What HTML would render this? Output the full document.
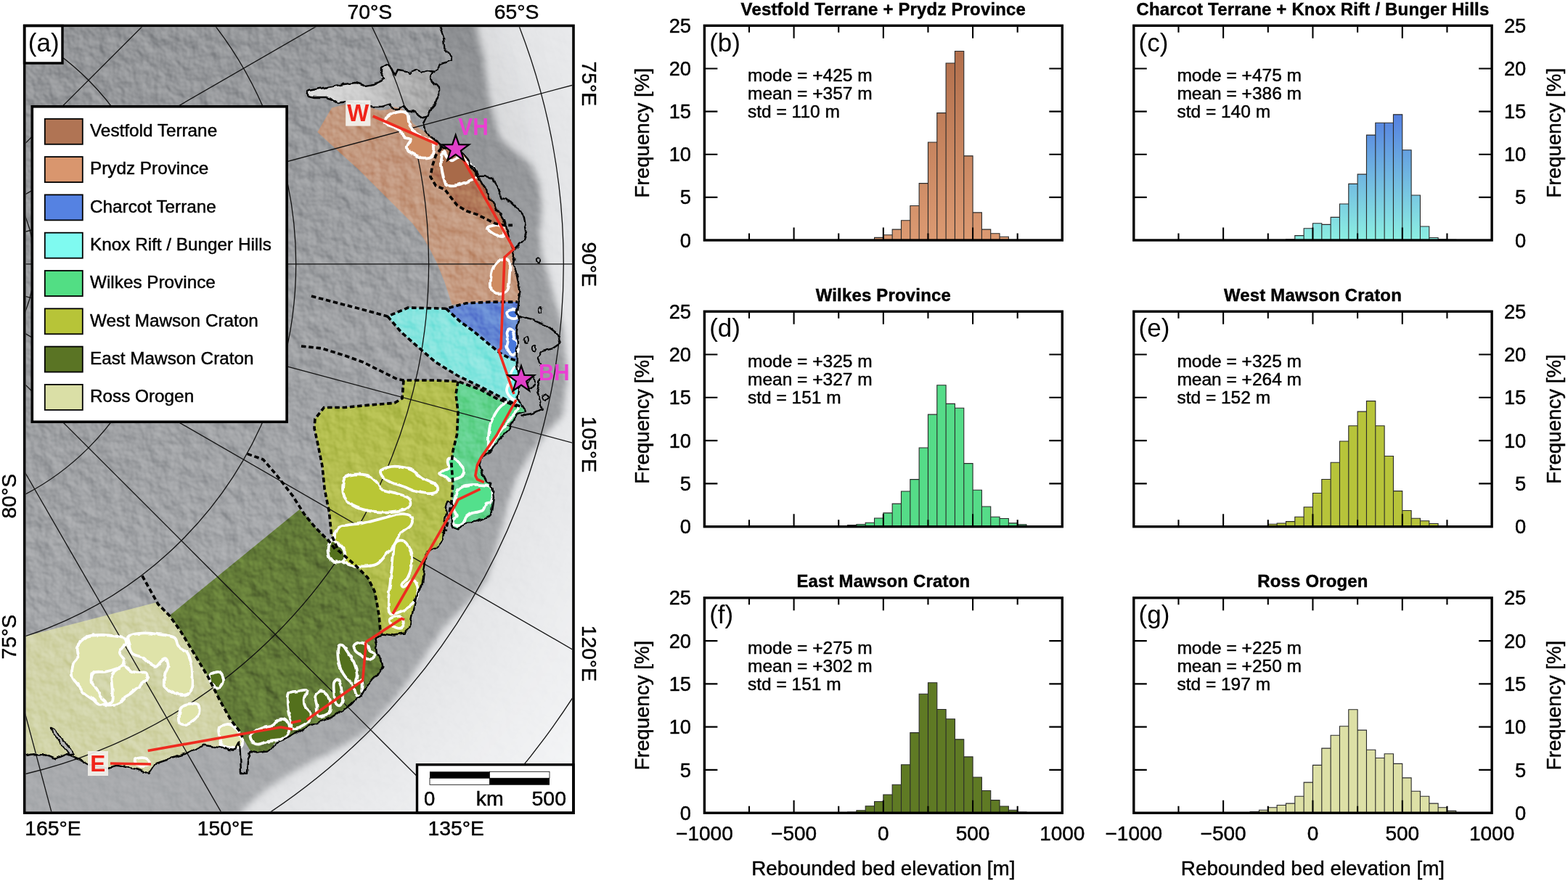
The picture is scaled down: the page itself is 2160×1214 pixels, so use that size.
<!DOCTYPE html>
<html><head><meta charset="utf-8"><title>Figure</title>
<style>html,body{margin:0;padding:0;background:#fff;}svg{display:block;}text{stroke:#000;stroke-width:0.45px;}text.c,text.n{stroke:none;}</style></head>
<body><svg width="2160" height="1214" viewBox="0 0 2160 1214" font-family="'Liberation Sans', Arial, Helvetica, sans-serif">
<defs>
<clipPath id="mc"><rect x="35.5" y="37.2" width="752.6" height="1081.2"/></clipPath>
<linearGradient id="land" x1="0" y1="0" x2="0.35" y2="1"><stop offset="0" stop-color="#929497"/><stop offset="0.45" stop-color="#9d9fa2"/><stop offset="1" stop-color="#acaeb1"/></linearGradient>
<linearGradient id="shelf" x1="0" y1="0" x2="0" y2="1"><stop offset="0" stop-color="#8d8f92"/><stop offset="0.3" stop-color="#999b9e"/><stop offset="0.6" stop-color="#a1a3a6"/><stop offset="1" stop-color="#a9abae"/></linearGradient><radialGradient id="deep" gradientUnits="userSpaceOnUse" cx="-131.4" cy="363.8" r="1150"><stop offset="0.7" stop-color="#cfd0d2"/><stop offset="0.78" stop-color="#e3e4e6"/><stop offset="0.9" stop-color="#edeef0"/><stop offset="1" stop-color="#f4f5f6"/></radialGradient>
<linearGradient id="amery" x1="0" y1="0" x2="1" y2="0"><stop offset="0" stop-color="#e2e2e2"/><stop offset="0.4" stop-color="#cdcdcd"/><stop offset="0.7" stop-color="#b4b4b4"/><stop offset="1" stop-color="#a4a4a4"/></linearGradient>
<filter id="jag" filterUnits="userSpaceOnUse" x="30" y="30" width="770" height="1100"><feTurbulence type="fractalNoise" baseFrequency="0.09" numOctaves="2" seed="3" result="t"/><feDisplacementMap in="SourceGraphic" in2="t" scale="6" xChannelSelector="R" yChannelSelector="G"/></filter>
<filter id="jag2" filterUnits="userSpaceOnUse" x="30" y="30" width="770" height="1100"><feTurbulence type="fractalNoise" baseFrequency="0.08" numOctaves="2" seed="5" result="t"/><feDisplacementMap in="SourceGraphic" in2="t" scale="4" xChannelSelector="R" yChannelSelector="G"/></filter>
<filter id="blur6" x="-10%" y="-10%" width="120%" height="120%"><feGaussianBlur stdDeviation="5"/></filter>
<filter id="relief" x="0" y="0" width="100%" height="100%" color-interpolation-filters="sRGB"><feTurbulence type="fractalNoise" baseFrequency="0.05" numOctaves="3" seed="7" result="n"/><feDiffuseLighting in="n" surfaceScale="2.6" lighting-color="#fff" result="l"><feDistantLight azimuth="315" elevation="50"/></feDiffuseLighting><feComponentTransfer><feFuncR type="linear" slope="1.5" intercept="-0.65"/><feFuncG type="linear" slope="1.5" intercept="-0.65"/><feFuncB type="linear" slope="1.5" intercept="-0.65"/></feComponentTransfer></filter>
<mask id="landm" maskUnits="userSpaceOnUse" x="30" y="30" width="770" height="1100"><rect x="30" y="30" width="770" height="1100" fill="#fff"/><path d="M605 30 606 38 611 51.5 612.5 68 622 78 621 83 606 89 598 99 604 121 604 134 601 142 594 150 588 160 582 172 586 180 594 189 603 196 611 203 627 205 637.5 211.5 645 220 650 230.3 656 240 662.4 249.1 670 263 678.1 277.3 686 290 693.7 302.3 700 322 706.2 343 709 352 706.6 365 711.6 377 714 389.5 716.5 402 714 414 711.6 432 715 440 711.6 456.5 713 473 711.6 489.5 712 505 716 521 712.5 549 718.8 558.4 725 567.8 712.5 571 706.2 580.3 700 592.9 693 600 686.5 606.6 678.6 619.8 670.7 626.4 662.8 631.6 660.2 639.5 662.8 647.4 665.4 655.4 669.4 663.3 676 665.9 678.6 673.8 679.9 685.7 677.3 702.8 676 709.4 665.4 714.7 654.9 718.6 641.7 719.9 635.1 726.5 631.2 730.5 624.6 727.8 621.9 721.3 621.9 705.4 623.3 694.9 615.4 690.9 612.7 698.8 615.4 705.4 612.7 718.6 609.9 742.8 600.5 755.3 588 761.6 584.8 783.5 581.7 805.4 575.5 814.8 572.3 827.3 569.2 839.8 566 855.5 564.8 863.6 556.9 873.5 543.1 875.5 527.3 873.5 515.4 881.4 517.4 889.3 519.4 901.1 525.3 909 527.3 918.9 523.3 926.8 513.4 934.7 505.5 944.6 497.6 958.5 489.7 964.4 481.8 972.3 470 980.2 458.1 988.1 442.3 994 426.5 1000 408.7 1009.8 394.9 1017.7 379 1023.7 369.2 1035.5 353.4 1037.5 345.5 1035.5 341 1050 340 1066 332 1066 331 1040 330 1022 324 1033 302 1030 280.4 1026.7 255.4 1039.2 233.5 1045.5 214.7 1051.8 205.3 1065.8 186.5 1059.6 161.5 1054.9 149 1058 123.9 1054.9 108.3 1045.5 92.6 1039.2 77 1045.5 61.3 1039.2 45.7 1039.2 30 1042 30 1130 800 1130 800 30Z" fill="#000"/></mask>
<mask id="oceanm" maskUnits="userSpaceOnUse" x="30" y="30" width="770" height="1100"><path d="M605 30 606 38 611 51.5 612.5 68 622 78 621 83 606 89 598 99 604 121 604 134 601 142 594 150 588 160 582 172 586 180 594 189 603 196 611 203 627 205 637.5 211.5 645 220 650 230.3 656 240 662.4 249.1 670 263 678.1 277.3 686 290 693.7 302.3 700 322 706.2 343 709 352 706.6 365 711.6 377 714 389.5 716.5 402 714 414 711.6 432 715 440 711.6 456.5 713 473 711.6 489.5 712 505 716 521 712.5 549 718.8 558.4 725 567.8 712.5 571 706.2 580.3 700 592.9 693 600 686.5 606.6 678.6 619.8 670.7 626.4 662.8 631.6 660.2 639.5 662.8 647.4 665.4 655.4 669.4 663.3 676 665.9 678.6 673.8 679.9 685.7 677.3 702.8 676 709.4 665.4 714.7 654.9 718.6 641.7 719.9 635.1 726.5 631.2 730.5 624.6 727.8 621.9 721.3 621.9 705.4 623.3 694.9 615.4 690.9 612.7 698.8 615.4 705.4 612.7 718.6 609.9 742.8 600.5 755.3 588 761.6 584.8 783.5 581.7 805.4 575.5 814.8 572.3 827.3 569.2 839.8 566 855.5 564.8 863.6 556.9 873.5 543.1 875.5 527.3 873.5 515.4 881.4 517.4 889.3 519.4 901.1 525.3 909 527.3 918.9 523.3 926.8 513.4 934.7 505.5 944.6 497.6 958.5 489.7 964.4 481.8 972.3 470 980.2 458.1 988.1 442.3 994 426.5 1000 408.7 1009.8 394.9 1017.7 379 1023.7 369.2 1035.5 353.4 1037.5 345.5 1035.5 341 1050 340 1066 332 1066 331 1040 330 1022 324 1033 302 1030 280.4 1026.7 255.4 1039.2 233.5 1045.5 214.7 1051.8 205.3 1065.8 186.5 1059.6 161.5 1054.9 149 1058 123.9 1054.9 108.3 1045.5 92.6 1039.2 77 1045.5 61.3 1039.2 45.7 1039.2 30 1042 30 1130 800 1130 800 30Z" fill="#fff"/></mask>
<linearGradient id="gb" gradientUnits="userSpaceOnUse" x1="0" y1="331" x2="0" y2="70.43"><stop offset="0" stop-color="#dc9a72"/><stop offset="1" stop-color="#b26f4c"/></linearGradient>
<linearGradient id="gc" gradientUnits="userSpaceOnUse" x1="0" y1="331" x2="0" y2="157.84"><stop offset="0" stop-color="#8cf0e2"/><stop offset="1" stop-color="#5580e0"/></linearGradient>
</defs>
<rect width="2160" height="1214" fill="#fff"/>
<g clip-path="url(#mc)">
<rect x="30" y="30" width="770" height="1100" fill="url(#land)"/>
<path d="M605 30 606 38 611 51.5 612.5 68 622 78 621 83 606 89 598 99 604 121 604 134 601 142 594 150 588 160 582 172 586 180 594 189 603 196 611 203 627 205 637.5 211.5 645 220 650 230.3 656 240 662.4 249.1 670 263 678.1 277.3 686 290 693.7 302.3 700 322 706.2 343 709 352 706.6 365 711.6 377 714 389.5 716.5 402 714 414 711.6 432 715 440 711.6 456.5 713 473 711.6 489.5 712 505 716 521 712.5 549 718.8 558.4 725 567.8 712.5 571 706.2 580.3 700 592.9 693 600 686.5 606.6 678.6 619.8 670.7 626.4 662.8 631.6 660.2 639.5 662.8 647.4 665.4 655.4 669.4 663.3 676 665.9 678.6 673.8 679.9 685.7 677.3 702.8 676 709.4 665.4 714.7 654.9 718.6 641.7 719.9 635.1 726.5 631.2 730.5 624.6 727.8 621.9 721.3 621.9 705.4 623.3 694.9 615.4 690.9 612.7 698.8 615.4 705.4 612.7 718.6 609.9 742.8 600.5 755.3 588 761.6 584.8 783.5 581.7 805.4 575.5 814.8 572.3 827.3 569.2 839.8 566 855.5 564.8 863.6 556.9 873.5 543.1 875.5 527.3 873.5 515.4 881.4 517.4 889.3 519.4 901.1 525.3 909 527.3 918.9 523.3 926.8 513.4 934.7 505.5 944.6 497.6 958.5 489.7 964.4 481.8 972.3 470 980.2 458.1 988.1 442.3 994 426.5 1000 408.7 1009.8 394.9 1017.7 379 1023.7 369.2 1035.5 353.4 1037.5 345.5 1035.5 341 1050 340 1066 332 1066 331 1040 330 1022 324 1033 302 1030 280.4 1026.7 255.4 1039.2 233.5 1045.5 214.7 1051.8 205.3 1065.8 186.5 1059.6 161.5 1054.9 149 1058 123.9 1054.9 108.3 1045.5 92.6 1039.2 77 1045.5 61.3 1039.2 45.7 1039.2 30 1042 30 1130 800 1130 800 30Z" fill="url(#shelf)"/>
<path d="M656 30 656 36 666 78 672 126 679 158 688 190 711 210 733 229 743 255 746 287 743 319 746 351 756 383 766 420 774.6 449 781.5 518 774.6 573.8 753.8 594.6 733 622.3 712 657 700 691.5 692 726.1 682 760.8 670 800 645 830 612 864 584 906 556 948 528 982 500 1012 465 1032 430 1049 400 1066 370 1085 345 1105 325 1130 800 1130 800 30Z" fill="url(#deep)" filter="url(#blur6)"/>
<path d="M422 127 425 125 441 122 458 119 474 116 489 114 502 118 515 116 530 109 525 101 525 93 532 89 538 92 542 100 545 102.5 548 96 558 97.6 565 101 573 96 581 99 589.5 97 598 99 594 106 596 112 604 121 604 134 601 142 594 150 589.5 158.6 581 162 575 157 570 155 561 152 555 147 548 150 540 150 537 144 524 147 512 147 502 142 477 140 466 142 458 137 449 134 433 134 425 132Z" fill="url(#amery)"/>
<path d="M437.3 181.9 457 148.5 476.8 143.6 511.4 148.5 523.8 152.2 533.7 151 543.6 147.3 553.4 149.8 563.3 159.7 568.3 169.5 578.2 177 593 186.8 602.9 196.7 610.3 202.9 627.6 205.4 637.5 211.5 645 220 650 230.3 656 240 662.4 249.1 670 263 678.1 277.3 686 290 693.7 302.3 700 322 706.2 343 709 352 706.6 365 711.6 377 714 389.5 716.5 402 714 414 713.2 416.1 675.3 416.1 642.4 417.8 622.6 420 612.8 389.5 602.9 364.8 593 345 583.1 327.7 568.3 307.9 543.6 283.2 518.8 258.5 494.1 233.8 469.4 211.5Z" fill="#d9966e" fill-opacity="0.66"/>
<path d="M607.8 204.1 627.6 205.4 637.5 211.5 645 220 650 230.3 656 240 662.4 249.1 670 263 678.1 277.3 686 290 693.7 302.3 697 310.4 694.3 310.4 681.9 307.9 672.1 303 657.2 295.6 642.4 290.6 630 283.2 620.2 270.9 612.8 261 600.4 256 593 243.7 595.5 228.8 600.4 214 607.8 204.1Z" fill="#a86a4a" fill-opacity="0.72"/>
<path d="M614.4 425.2 642.4 417.8 675.3 416.1 713.2 416.1 711.6 432 715 440 711.6 456.5 713 473 711.6 489.5 712 497 703.3 494.4 688.5 486.2 672 473 652.3 456.5 634.1 443.3 614.4 425.2Z" fill="#5580e0" fill-opacity="0.8"/>
<path d="M534 436 562 424 614.4 425.2 634.1 443.3 652.3 456.5 672 473 688.5 486.2 703.3 494.4 712 497 712 505 716 521 712.5 549 718.8 558.4 720 561 712.5 558.4 687.5 546 662 533 631 518 600 499 578 480 553 458 534 436Z" fill="#7ff6ee" fill-opacity="0.8"/>
<path d="M631 525.6 662 537 684 549 712.5 560 720 562 725 567.8 712.5 571 706.2 580.3 700 592.9 693 600 686.5 606.6 678.6 619.8 670.7 626.4 662.8 631.6 660.2 639.5 662.8 647.4 665.4 655.4 669.4 663.3 676 665.9 678.6 673.8 679.9 685.7 677.3 702.8 676 709.4 665.4 714.7 654.9 718.6 641.7 719.9 635.1 726.5 631.2 730.5 624.6 727.8 621.9 721.3 621.9 705.4 623.3 694.9 623.9 665.9 621.9 639.5 624 621 629.5 599 631 568 628 543 631 525.6Z" fill="#52de88" fill-opacity="0.8"/>
<path d="M556 524 600 524 631 525.6 628 543 631 568 629.5 599 624 621 621.9 639.5 623.9 665.9 621.9 692.3 615.4 690.9 612.7 698.8 615.4 705.4 612.7 718.6 609.9 742.8 600.5 755.3 588 761.6 584.8 783.5 581.7 805.4 575.5 814.8 572.3 827.3 569.2 839.8 566 855.5 564.8 863.6 556.9 873.5 543.1 875.5 527.3 873.5 523.8 868 522.2 849.2 519.1 830.4 516 814.8 506.6 796 487.8 777.2 465.9 758.4 456.5 736.5 453.4 705.2 447.1 673.9 444 642.6 437.7 611.3 433 590 434 577.2 446.4 561.5 474.6 561.5 506 558.4 543.5 555.3 554 549 556 524Z" fill="#b8c438" fill-opacity="0.8"/>
<path d="M233.5 848.3 412.7 702.1 419 708.3 434.6 727.1 453.4 745.9 462.8 758.4 487.8 777.2 506.6 796 516 814.8 519.1 830.4 522.2 849.2 523.8 868 527.3 873.5 515.4 881.4 517.4 889.3 519.4 901.1 525.3 909 527.3 918.9 523.3 926.8 513.4 934.7 505.5 944.6 497.6 958.5 489.7 964.4 481.8 972.3 470 980.2 458.1 988.1 442.3 994 426.5 1000 408.7 1009.8 394.9 1017.7 379 1023.7 369.2 1035.5 353.4 1037.5 345.5 1035.5 334 1016 330.5 1008 318 992.3 302.3 964.1 286.7 932.8 267.9 901.5 249.1 870.2 233.5 848.3Z" fill="#587424" fill-opacity="0.85"/>
<path d="M30 878 217.8 829.5 217.8 832.6 233.5 848.3 249.1 870.2 267.9 901.5 286.7 932.8 302.3 964.1 318 992.3 330.5 1008 334 1016 330 1022 324 1033 302 1030 280.4 1026.7 255.4 1039.2 233.5 1045.5 214.7 1051.8 205.3 1065.8 186.5 1059.6 161.5 1054.9 149 1058 123.9 1054.9 108.3 1045.5 92.6 1039.2 77 1045.5 61.3 1039.2 45.7 1039.2 30 1042Z" fill="#dcdea6" fill-opacity="0.8"/>
<rect x="30" y="30" width="770" height="1100" filter="url(#relief)" style="mix-blend-mode:overlay" opacity="0.3" mask="url(#landm)"/>
<rect x="30" y="30" width="770" height="1100" filter="url(#relief)" style="mix-blend-mode:overlay" opacity="0.13" mask="url(#oceanm)"/>
<g fill="none" stroke="#111" stroke-width="1.3"><circle cx="-131.4" cy="363.8" r="178.8"/><circle cx="-131.4" cy="363.8" r="358.2"/><circle cx="-131.4" cy="363.8" r="539.1"/><circle cx="-131.4" cy="363.8" r="722"/><circle cx="-131.4" cy="363.8" r="907.7"/><circle cx="-131.4" cy="363.8" r="1097.1"/><line x1="-131.4" y1="363.8" x2="386.2" y2="-1568.1"/><line x1="-131.4" y1="363.8" x2="868.6" y2="-1368.3"/><line x1="-131.4" y1="363.8" x2="1282.8" y2="-1050.4"/><line x1="-131.4" y1="363.8" x2="1600.7" y2="-636.2"/><line x1="-131.4" y1="363.8" x2="1800.5" y2="-153.8"/><line x1="-131.4" y1="363.8" x2="1868.6" y2="363.8"/><line x1="-131.4" y1="363.8" x2="1800.5" y2="881.4"/><line x1="-131.4" y1="363.8" x2="1600.7" y2="1363.8"/><line x1="-131.4" y1="363.8" x2="1282.8" y2="1778"/><line x1="-131.4" y1="363.8" x2="868.6" y2="2095.9"/><line x1="-131.4" y1="363.8" x2="386.2" y2="2295.7"/><line x1="-131.4" y1="363.8" x2="-131.4" y2="2363.8"/></g>
<g filter="url(#jag2)">
<path d="M528.7 168.3C529.1 166.2 532.4 161.6 536.1 159.2C539.8 156.8 546.9 154.3 551 154C555.1 153.7 558.9 154.6 560.9 157.2C562.9 159.8 562.1 165.8 563.3 169.5C564.5 173.2 565.8 176.5 568.3 179.4C570.8 182.3 575.7 185.2 578.2 186.8C580.7 188.5 580.6 188.1 583.1 189.3C585.6 190.5 590.5 192.1 593 194.2C595.5 196.3 597.5 198.4 597.9 201.7C598.3 205 598 211.3 595.5 214C593 216.7 586.8 217.7 583.1 217.7C579.4 217.7 576.5 215.4 573.2 214C569.9 212.6 565.3 211.2 563.3 209.1C561.2 207 560.5 204.6 560.9 201.7C561.3 198.8 566.6 193.9 565.8 191.8C565 189.7 558.4 191.4 555.9 189.3C553.4 187.2 553.5 181.9 551 179.4C548.5 176.9 544 175.7 541.1 174.5C538.2 173.3 535.8 173 533.7 172C531.6 171 528.3 170.4 528.7 168.3Z" fill="#cf8c62" stroke="#fff" stroke-width="3.8" stroke-linejoin="round"/>
<path d="M610.3 209.1C609.1 210.3 607.8 218.6 607.8 223.9C607.8 229.2 609.1 236.2 610.3 241.2C611.5 246.1 611.9 251.3 615.2 253.6C618.5 255.9 624.6 255.6 630 254.8C635.4 254 642.8 250.4 647.3 248.6C651.8 246.8 656.4 246.6 657.2 243.7C658 240.8 654.8 235 652.3 231.3C649.8 227.6 645.7 223.9 642.4 221.4C639.1 218.9 635.8 216.5 632.5 216.5C629.2 216.5 625.5 221.4 622.6 221.4C619.7 221.4 617.2 218.6 615.2 216.5C613.2 214.4 611.5 207.9 610.3 209.1Z" fill="#a86a48" stroke="#fff" stroke-width="3.8" stroke-linejoin="round"/>
<path d="M672.1 312.9C674.2 311.7 683.2 309.6 686.9 310.4C690.6 311.2 693.1 315.3 694.3 317.8C695.5 320.3 695.5 324 694.3 325.2C693.1 326.4 690.2 326.4 686.9 325.2C683.6 324 677 319.9 674.5 317.8C672 315.8 670 314.1 672.1 312.9Z" fill="#cf8c62" stroke="#fff" stroke-width="3.8" stroke-linejoin="round"/>
<path d="M681.9 364.8C684.4 361.5 688.5 358.1 691.8 357.3C695.1 356.5 700.1 355.7 701.7 359.8C703.4 363.9 702.1 375.5 701.7 382.1C701.3 388.7 701.7 395.7 699.2 399.4C696.7 403.1 690.6 404.3 686.9 404.3C683.2 404.3 678.6 403.9 677 399.4C675.4 394.9 676.2 382.9 677 377.1C677.8 371.3 679.4 368.1 681.9 364.8Z" fill="#cf8c62" stroke="#fff" stroke-width="3.8" stroke-linejoin="round"/>
<path d="M700 428.5C701.6 427.4 706.1 426.3 708.3 426.9C710.5 427.4 712.7 429.9 713.2 431.8C713.8 433.7 713.2 437.3 711.6 438.4C710 439.5 705.5 439.2 703.3 438.4C701.1 437.6 698.9 435 698.4 433.4C697.9 431.8 698.4 429.6 700 428.5Z" fill="#4a78dc" stroke="#fff" stroke-width="3.8" stroke-linejoin="round"/>
<path d="M701.7 453.2C703.1 452.9 705.5 454.3 706.6 456.5C707.7 458.7 707.2 463.9 708.3 466.4C709.4 468.9 712.7 468 713.2 471.3C713.8 474.6 713 483.4 711.6 486.2C710.2 488.9 707.2 488.9 705 487.8C702.8 486.7 699.2 482.9 698.4 479.6C697.6 476.3 700 471.6 700 468C700 464.4 698.1 460.7 698.4 458.2C698.7 455.7 700.3 453.5 701.7 453.2Z" fill="#4a78dc" stroke="#fff" stroke-width="3.8" stroke-linejoin="round"/>
<path d="M702 525C703.3 520.7 704.3 515.2 706 512C707.7 508.8 710.3 504.5 712 506C713.7 507.5 715.9 513.8 716 521C716.1 528.2 714.5 544.5 712.5 549C710.5 553.5 706.4 549.8 704 548C701.6 546.2 698.3 541.8 698 538C697.7 534.2 700.7 529.3 702 525Z" fill="#7af4ee" stroke="#fff" stroke-width="3.8" stroke-linejoin="round"/>
<path d="M672.7 614.8C672.7 609.1 672.7 592.9 675.8 583.5C678.9 574.1 685.8 563.1 691.5 558.4C697.2 553.7 706.6 554.2 710.2 555.3C713.9 556.3 715.5 560 713.4 564.7C711.3 569.4 702.9 576.7 697.7 583.5C692.5 590.3 685.8 599.7 682.1 605.4C678.5 611.1 677.4 616.3 675.8 617.9C674.2 619.5 672.7 620.5 672.7 614.8Z" fill="#52e08c" stroke="#fff" stroke-width="3.8" stroke-linejoin="round"/>
<path d="M618 633C619.5 632.1 623.3 630.5 625.9 631.6C628.5 632.7 631.6 636.9 633.8 639.5C636 642.1 638.7 644.8 639.1 647.4C639.5 650 638.6 653.2 636.4 655.4C634.2 657.6 628.8 659.5 625.9 660.6C623 661.7 621.5 662.5 619.3 661.9C617.1 661.2 614.9 658.2 612.7 656.7C610.5 655.2 606.5 654 606.1 652.7C605.7 651.4 608.1 650.1 610.1 648.8C612.1 647.5 616.9 646.8 618 644.8C619.1 642.8 616.7 638.9 616.7 636.9C616.7 634.9 616.5 633.9 618 633Z" fill="#52e08c" stroke="#fff" stroke-width="3.8" stroke-linejoin="round"/>
<path d="M629.9 676.4C631.9 673.8 635.4 671.3 639.1 669.9C642.8 668.5 647.5 668.1 652.3 667.9C657.1 667.7 664.1 668 668.1 668.5C672.1 669 674.2 669 676 671.2C677.8 673.4 678.6 678.2 678.6 681.7C678.6 685.2 677.5 690.1 676 692.3C674.5 694.5 671.2 693.1 669.4 694.9C667.6 696.6 667.2 701 665.4 702.8C663.6 704.5 661 704.7 658.8 705.4C656.6 706.1 654.5 706.1 652.3 706.8C650.1 707.5 647.5 708.3 645.7 709.4C643.9 710.5 642.8 711.5 641.7 713.3C640.6 715 640.6 718.1 639.1 719.9C637.6 721.7 634.9 723.4 632.5 723.9C630.1 724.4 625.9 723.9 624.6 722.6C623.3 721.3 623.7 718 624.6 716C625.5 714 629.7 712.5 629.9 710.7C630.1 708.9 626.8 708 625.9 705.4C625 702.8 624.4 698.2 624.6 694.9C624.8 691.6 626.3 688.8 627.2 685.7C628.1 682.6 627.9 679 629.9 676.4Z" fill="#52e08c" stroke="#fff" stroke-width="3.8" stroke-linejoin="round"/>
<path d="M475.3 658.3C477.9 655.4 482.6 654.1 487.8 653.6C493 653.1 501.4 653.3 506.6 655.1C511.8 656.9 516 661.4 519.1 664.5C522.2 667.6 520.7 671.3 525.4 673.9C530.1 676.5 541 678.1 547.3 680.2C553.5 682.3 559.8 683.8 562.9 686.4C566 689 567.1 693.2 566.1 695.8C565.1 698.4 561.4 700.5 556.7 702.1C552 703.7 544.2 704.7 537.9 705.2C531.6 705.7 525.4 705.7 519.1 705.2C512.8 704.7 506 703.7 500.3 702.1C494.6 700.5 489.1 698.9 484.7 695.8C480.3 692.7 475.8 687.5 473.7 683.3C471.6 679.1 471.9 675 472.2 670.8C472.5 666.6 472.7 661.2 475.3 658.3Z" fill="#b9c634" stroke="#fff" stroke-width="3.8" stroke-linejoin="round"/>
<path d="M525.4 647.3C528.3 644.9 537.4 642.6 544.2 642.6C551 642.6 559.9 644.7 566.1 647.3C572.4 649.9 576 654.9 581.7 658.3C587.4 661.7 597.1 664.5 600.5 667.6C603.9 670.7 603.7 674.9 602.1 677C600.5 679.1 596.1 680.2 591.1 680.2C586.1 680.2 578 678.6 572.3 677C566.6 675.4 562.4 672.9 556.7 670.8C551 668.7 542.9 666.9 537.9 664.5C532.9 662.1 529 659.6 526.9 656.7C524.8 653.8 522.5 649.6 525.4 647.3Z" fill="#b9c634" stroke="#fff" stroke-width="3.8" stroke-linejoin="round"/>
<path d="M462.8 730.3C465.2 726.6 469.1 725.6 475.3 724C481.6 722.4 492 722.5 500.3 720.9C508.6 719.3 517 716.7 525.4 714.6C533.8 712.5 543.6 708.8 550.4 708.3C557.2 707.8 563.5 708.9 566.1 711.5C568.7 714.1 568.7 719.8 566.1 724C563.5 728.2 554 732.3 550.4 736.5C546.8 740.7 547.3 744.3 544.2 749C541.1 753.7 535.8 760 531.6 764.7C527.4 769.4 524.3 774.6 519.1 777.2C513.9 779.8 507.1 780.3 500.3 780.3C493.5 780.3 484.4 779.8 478.4 777.2C472.4 774.6 467.2 769.9 464.3 764.7C461.4 759.5 461.4 751.6 461.2 745.9C460.9 740.2 460.4 733.9 462.8 730.3Z" fill="#b9c634" stroke="#fff" stroke-width="3.8" stroke-linejoin="round"/>
<path d="M544.2 749C546.8 744.3 553.1 743.8 556.7 745.9C560.4 748 564.5 755.3 566.1 761.6C567.7 767.9 567.2 777.2 566.1 783.5C565 789.8 561.9 795.5 559.8 799.1C557.7 802.8 554 803.8 553.5 805.4C553 807 554.1 809.5 556.7 808.5C559.3 807.5 566.1 798.6 569.2 799.1C572.3 799.6 575 806.9 575.5 811.6C576 816.3 574.4 823.1 572.3 827.3C570.2 831.5 566.5 834.1 562.9 836.7C559.2 839.3 554.6 841.3 550.4 842.9C546.2 844.5 540.5 848.2 537.9 846.1C535.3 844 534.8 838.2 534.8 830.4C534.8 822.6 536.9 808.5 537.9 799.1C538.9 789.7 540 782.5 541 774.1C542 765.8 541.6 753.7 544.2 749Z" fill="#b9c634" stroke="#fff" stroke-width="3.8" stroke-linejoin="round"/>
<path d="M537.9 852.3C540 850.7 547.3 848.7 550.4 849.2C553.5 849.7 556.2 852.9 556.7 855.5C557.2 858.1 555.6 863.2 553.5 864.8C551.4 866.3 546.8 865.8 544.2 864.8C541.6 863.8 539 860.7 537.9 858.6C536.8 856.5 535.8 853.9 537.9 852.3Z" fill="#b9c634" stroke="#fff" stroke-width="3.8" stroke-linejoin="round"/>
<path d="M453.4 749C454.7 746.4 456.5 744.9 459.6 745.9C462.7 746.9 469.6 751.6 472.2 755.3C474.8 758.9 475.8 764.7 475.3 767.8C474.8 770.9 472.1 773.3 469 774.1C465.9 774.9 459.4 774.6 456.5 772.5C453.6 770.4 452.3 765.5 451.8 761.6C451.3 757.7 452.1 751.6 453.4 749Z" fill="#53701e" stroke="#fff" stroke-width="3.8" stroke-linejoin="round"/>
<path d="M289.8 929.7C291.9 927.6 299.4 924.9 302.3 926.5C305.2 928.1 307.5 935.4 307 939.1C306.5 942.8 302.1 948.5 299.2 948.5C296.3 948.5 291.4 942.2 289.8 939.1C288.2 936 287.7 931.8 289.8 929.7Z" fill="#53701e" stroke="#fff" stroke-width="3.8" stroke-linejoin="round"/>
<path d="M345.5 1011.8C347.5 1008.8 354.4 1005.9 359.3 1003.9C364.2 1001.9 371.2 1002 375.1 1000C379.1 998 380 993.3 383 992C386 990.7 390.3 990.4 392.9 992C395.5 993.6 398.5 998.3 398.8 1001.9C399.1 1005.5 396.9 1010.8 394.9 1013.8C392.9 1016.8 391.3 1018.4 387 1019.7C382.7 1021 374.5 1020.7 369.2 1021.7C363.9 1022.7 358.9 1025.7 355.3 1025.7C351.7 1025.7 349 1024 347.4 1021.7C345.8 1019.4 343.5 1014.8 345.5 1011.8Z" fill="#53701e" stroke="#fff" stroke-width="3.8" stroke-linejoin="round"/>
<path d="M396.8 956.5C399.1 952.2 406.4 953.3 410.7 952.5C415 951.7 421.2 949.5 422.5 951.5C423.8 953.5 418.9 960.6 418.6 964.4C418.3 968.2 419 971 420.6 974.3C422.2 977.6 427.9 980.9 428.5 984.2C429.1 987.5 427.1 991 424.5 994C421.9 997 416.2 1000.2 412.6 1001.9C409 1003.5 404.8 1005.2 402.8 1003.9C400.8 1002.6 401.8 998.3 400.8 994C399.8 989.7 397.5 984.5 396.8 978.2C396.1 972 394.5 960.8 396.8 956.5Z" fill="#53701e" stroke="#fff" stroke-width="3.8" stroke-linejoin="round"/>
<path d="M434.4 958.5C435.4 955.2 439.7 952.8 442.3 952.5C444.9 952.2 448.2 953.9 450.2 956.5C452.2 959.1 453.5 964.3 454.2 968.3C454.9 972.2 455.5 977.2 454.2 980.2C452.9 983.2 448.8 985.1 446.2 986.1C443.6 987.1 439.9 988.4 438.3 986.1C436.7 983.8 437 976.9 436.4 972.3C435.8 967.7 433.4 961.8 434.4 958.5Z" fill="#53701e" stroke="#fff" stroke-width="3.8" stroke-linejoin="round"/>
<path d="M460.1 940.7C461.1 937.7 464.4 935.4 466 936.7C467.6 938 469 944 470 948.6C471 953.2 472.3 960.5 472 964.4C471.7 968.3 469.6 971.6 468 972.3C466.4 972.9 463.4 971.3 462.1 968.3C460.8 965.3 460.4 959.1 460.1 954.5C459.8 949.9 459.1 943.7 460.1 940.7Z" fill="#53701e" stroke="#fff" stroke-width="3.8" stroke-linejoin="round"/>
<path d="M466 891.3C467 888 469.9 888.3 471.9 889.3C473.9 890.3 475.3 893.2 477.9 897.2C480.5 901.2 485.4 907.7 487.7 913C490 918.3 491.4 924.2 491.7 928.8C492 933.4 488.7 939.4 489.7 940.7C490.7 942 496 936.1 497.6 936.7C499.2 937.4 499.6 941.3 499.6 944.6C499.6 947.9 498.9 954.2 497.6 956.5C496.3 958.8 493.4 959.8 491.7 958.5C490 957.2 489 951.6 487.7 948.6C486.4 945.6 485.8 943.3 483.8 940.7C481.8 938.1 478.2 935.8 475.9 932.8C473.6 929.8 471.6 926.9 470 922.9C468.4 918.9 466.7 914.3 466 909C465.3 903.7 465 894.6 466 891.3Z" fill="#53701e" stroke="#fff" stroke-width="3.8" stroke-linejoin="round"/>
<path d="M487.7 889.3C488.7 887.3 492.7 885.3 495.7 885.3C498.7 885.3 503.2 887.3 505.5 889.3C507.8 891.3 507.5 895.2 509.5 897.2C511.5 899.2 516.8 899.5 517.4 901.1C518 902.8 515.4 905.8 513.4 907.1C511.4 908.4 508.1 909.7 505.5 909C502.9 908.3 500.2 905.1 497.6 903.1C495 901.1 491.4 899.5 489.7 897.2C488 894.9 486.7 891.3 487.7 889.3Z" fill="#53701e" stroke="#fff" stroke-width="3.8" stroke-linejoin="round"/>
<path d="M106.1 891.1C108.2 886.3 114 880 120 877.3C126 874.6 135.4 875.1 141.9 875C148.4 874.9 154.4 875.9 159.2 876.7C164 877.5 168.2 878 170.7 879.6C173.2 881.2 174.2 884.8 174.2 886.5C174.2 888.2 172.2 887.9 170.7 890C169.1 892.1 164.9 896.1 164.9 899.2C164.9 902.3 169.7 905.7 170.7 908.4C171.7 911.1 172.2 913.2 170.7 915.3C169.2 917.4 165.7 919.4 161.5 921.1C157.3 922.8 150.7 924.7 145.3 925.7C139.9 926.7 132.5 924.4 129.2 926.9C125.9 929.4 124.9 936.9 125.7 940.7C126.5 944.5 131.7 946.6 133.8 949.9C135.9 953.2 136.5 957.4 138.4 960.3C140.3 963.2 145.7 965.5 145.3 967.2C144.9 968.9 139 971.3 136.1 970.7C133.2 970.1 131.3 966.3 128 963.8C124.7 961.3 120.3 959.6 116.5 955.7C112.7 951.9 107.9 944.7 105 940.7C102.1 936.7 99.9 935.8 99.2 931.5C98.5 927.2 99.7 919.2 101 915C102.3 910.8 106.5 910.1 107.3 906.1C108.1 902.1 104 895.9 106.1 891.1Z" fill="#dfe3a9" stroke="#fff" stroke-width="3.8" stroke-linejoin="round"/>
<path d="M154.6 929.2C155.8 926.5 158.8 924.2 161.5 922.3C164.2 920.4 167.6 917.2 170.7 917.6C173.8 918 176.6 923.1 179.9 924.6C183.2 926.1 186.8 926.5 190.3 926.9C193.8 927.3 198.6 925.6 200.7 926.9C202.8 928.2 203.6 932.6 203 934.9C202.4 937.2 199.5 938.6 197.2 940.7C194.9 942.8 192 945.1 189.1 947.6C186.2 950.1 183 953.4 179.9 955.7C176.8 958 173.4 959.4 170.7 961.5C168 963.6 166.5 966.8 163.8 968.4C161.1 970 157.9 970.9 154.6 971.3C151.3 971.7 144.2 971.6 144.2 970.7C144.2 969.8 152.7 969.2 154.6 966.1C156.5 963 155.7 956.8 155.7 952.2C155.7 947.6 154.8 942.2 154.6 938.4C154.4 934.6 153.4 931.9 154.6 929.2Z" fill="#dfe3a9" stroke="#fff" stroke-width="3.8" stroke-linejoin="round"/>
<path d="M176.5 877.3C179.2 874.6 187.1 873.3 193.8 872.7C200.5 872.1 209.1 872.8 216.8 873.8C224.5 874.8 235.1 875.7 239.9 878.4C244.7 881.1 242.7 886.7 245.6 890C248.5 893.3 254.3 894.4 257.2 898C260.1 901.6 261.6 906.7 262.9 911.9C264.2 917.1 264.8 923.4 265.2 929.2C265.6 935 266 942.3 265.2 946.5C264.4 950.7 262.9 952.6 260.6 954.5C258.3 956.4 254.9 958 251.4 958C247.9 958 243.8 956.2 239.9 954.5C236.1 952.8 230.6 950.3 228.3 947.6C226 944.9 226.2 941.5 226 938.4C225.8 935.3 226.2 932.7 227.2 929.2C228.2 925.7 231.6 921.1 231.8 917.6C232 914.1 229.8 909.5 228.3 908.4C226.8 907.2 224.9 909 222.6 910.7C220.3 912.4 217.4 918.2 214.5 918.8C211.6 919.4 208.4 916.3 205.3 914.2C202.2 912.1 199.9 908.4 196.1 906.1C192.2 903.8 185.3 903.3 182.2 900.4C179.1 897.5 178.5 892.6 177.6 888.8C176.7 884.9 173.8 880 176.5 877.3Z" fill="#dfe3a9" stroke="#fff" stroke-width="3.8" stroke-linejoin="round"/>
<path d="M251.4 973C255.2 969.4 265.9 969.1 269.8 969.5C273.7 969.9 274.1 972.4 274.5 975.3C274.9 978.2 274.1 983.3 272.2 986.8C270.3 990.2 266.4 994.1 262.9 996C259.4 997.9 254.1 999.1 251.4 998.3C248.7 997.5 246.8 995.6 246.8 991.4C246.8 987.2 247.6 976.6 251.4 973Z" fill="#dfe3a9" stroke="#fff" stroke-width="3.8" stroke-linejoin="round"/>
<path d="M302.3 1001.7C304.9 999.1 313.3 996.9 318 998.5C322.7 1000.1 327.9 1006.4 330.5 1011.1C333.1 1015.8 334.7 1023.4 333.6 1026.7C332.6 1030 328.9 1031 324.2 1031C319.5 1031 309.1 1029.5 305.5 1026.7C301.9 1023.9 302.8 1018.4 302.3 1014.2C301.8 1010 299.7 1004.3 302.3 1001.7Z" fill="#dfe2ad" stroke="#fff" stroke-width="3.8" stroke-linejoin="round"/>
<path d="M186.5 1046C188.3 1044.6 195.8 1043.5 199 1044.5C202.2 1045.5 206.5 1050 206 1051.8C205.5 1053.5 199 1054.8 196 1055C193 1055.2 189.6 1054.5 188 1053C186.4 1051.5 184.7 1047.4 186.5 1046Z" fill="#dfe2ad" stroke="#fff" stroke-width="3.8" stroke-linejoin="round"/>
</g>
<path d="M429 408 459 416 490 424 534 436 562 424 614.4 425.2 642.4 417.8 675.3 416.1 713.2 416.1" fill="none" stroke="#000" stroke-width="3.6" stroke-dasharray="6.5 3.8"/>
<path d="M614.4 425.2 634.1 443.3 652.3 456.5 672 473 688.5 486.2 703.3 494.4 712 497" fill="none" stroke="#000" stroke-width="3.6" stroke-dasharray="6.5 3.8"/>
<path d="M534 436 553 458 578 480 600 499 631 518 662 533 687.5 546 712.5 558.4 720 561" fill="none" stroke="#000" stroke-width="3.6" stroke-dasharray="6.5 3.8"/>
<path d="M415 477 443 480 475 490 500 499 525 511.5 547 522.4 556 524 600 524 631 525.6 662 537 684 549 712.5 560" fill="none" stroke="#000" stroke-width="3.6" stroke-dasharray="6.5 3.8"/>
<path d="M556 524 554 549 543.5 555.3 506 558.4 474.6 561.5 446.4 561.5 434 577.2 433 590 437.7 611.3 444 642.6 447.1 673.9 453.4 705.2 456.5 736.5 465.9 758.4 487.8 777.2 506.6 796 516 814.8 519.1 830.4 522.2 849.2 523.8 868 526 873" fill="none" stroke="#000" stroke-width="3.6" stroke-dasharray="6.5 3.8"/>
<path d="M631 525.6 628 543 631 568 629.5 599 624 621 621.9 639.5 623.9 665.9 621.9 692.3 616.7 718.6 614 731.8" fill="none" stroke="#000" stroke-width="3.6" stroke-dasharray="6.5 3.8"/>
<path d="M340.7 625.4 362.6 633.2 381.4 655.1 403.3 683.3 419 708.3 434.6 727.1 453.4 745.9 462.8 758.4" fill="none" stroke="#000" stroke-width="3.6" stroke-dasharray="6.5 3.8"/>
<path d="M195.9 793.5 217.8 832.6 233.5 848.3 249.1 870.2 267.9 901.5 286.7 932.8 302.3 964.1 318 992.3 330.5 1008 334 1016" fill="none" stroke="#000" stroke-width="3.6" stroke-dasharray="6.5 3.8"/>
<path d="M607.8 204.1 600.4 214 595.5 228.8 593 243.7 600.4 256 612.8 261 620.2 270.9 630 283.2 642.4 290.6 657.2 295.6 672.1 303 681.9 307.9 694.3 310.4 706 310.4" fill="none" stroke="#000" stroke-width="3.6" stroke-dasharray="6.5 3.8"/>
<g filter="url(#jag)">
<path d="M594 150 588 160 582 172 586 180 594 189 603 196 611 203 627 205 637.5 211.5 645 220 650 230.3 656 240 662.4 249.1 670 263 678.1 277.3 686 290 693.7 302.3 700 322 706.2 343 709 352 706.6 365 711.6 377 714 389.5 716.5 402 714 414 711.6 432 715 440 711.6 456.5 713 473 711.6 489.5 712 505 716 521 712.5 549 718.8 558.4 725 567.8 712.5 571 706.2 580.3 700 592.9 693 600 686.5 606.6 678.6 619.8 670.7 626.4 662.8 631.6 660.2 639.5 662.8 647.4 665.4 655.4 669.4 663.3 676 665.9 678.6 673.8 679.9 685.7 677.3 702.8 676 709.4 665.4 714.7 654.9 718.6 641.7 719.9 635.1 726.5 631.2 730.5 624.6 727.8 621.9 721.3 621.9 705.4 623.3 694.9 615.4 690.9 612.7 698.8 615.4 705.4 612.7 718.6 609.9 742.8 600.5 755.3 588 761.6 584.8 783.5 581.7 805.4 575.5 814.8 572.3 827.3 569.2 839.8 566 855.5 564.8 863.6 556.9 873.5 543.1 875.5 527.3 873.5 515.4 881.4 517.4 889.3 519.4 901.1 525.3 909 527.3 918.9 523.3 926.8 513.4 934.7 505.5 944.6 497.6 958.5 489.7 964.4 481.8 972.3 470 980.2 458.1 988.1 442.3 994 426.5 1000 408.7 1009.8 394.9 1017.7 379 1023.7 369.2 1035.5 353.4 1037.5 345.5 1035.5 341 1050 340 1066 332 1066 331 1040 330 1022 324 1033 302 1030 280.4 1026.7 255.4 1039.2 233.5 1045.5 214.7 1051.8 205.3 1065.8 186.5 1059.6 161.5 1054.9 149 1058 123.9 1054.9 108.3 1045.5 92.6 1039.2 77 1045.5 61.3 1039.2 45.7 1039.2 30 1042" fill="none" stroke="#000" stroke-width="2.4" stroke-linejoin="round"/>
<path d="M422 127 425 125 441 122 458 119 474 116 489 114 502 118 515 116 530 109 525 101 525 93 532 89 538 92 542 100 545 102.5 548 96 558 97.6 565 101 573 96 581 99 589.5 97 598 99 594 106 596 112 604 121 604 134 601 142 594 150 589.5 158.6 581 162 575 157 570 155 561 152 555 147 548 150 540 150 537 144 524 147 512 147 502 142 477 140 466 142 458 137 449 134 433 134 425 132Z" fill="none" stroke="#000" stroke-width="2.4" stroke-linejoin="round"/>
<path d="M598 99 606 89 621 83 622 78 612.5 68 611 51.5 606 38 605 30" fill="none" stroke="#000" stroke-width="2.4" stroke-linejoin="round"/>
<path d="M714 436 733 440.6 753.8 449.2 767.7 459.6 771.1 473.5 760.8 480.4 747 483.8 740 494.2 747 508 743.5 525.4 740 539.2 747 563.5 733 570.4 719.2 573.8" fill="none" stroke="#000" stroke-width="2.4" stroke-linejoin="round"/>
<path d="M650 228 653 230.3 659.3 242.9 668.7 242.9 678 246 684.3 255.4 690.6 274.2 703.1 277.3 712.5 286.7 721.9 299.2 725 318 721.9 330.5 712.5 339.9 707 346" fill="none" stroke="#000" stroke-width="2.4" stroke-linejoin="round"/>
<path d="M70.7 1001.7 75 1004 82 1015 92.6 1026.7 100 1036 102 1039.2 96 1040 88 1030 80 1020 72 1010Z" fill="#b4b4b4" stroke="#000" stroke-width="1.8" stroke-linejoin="round"/>
<path d="M739 358C739.5 356.8 742.2 355.5 743 356C743.8 356.5 744.5 359.8 744 361C743.5 362.2 740.8 363.5 740 363C739.2 362.5 738.5 359.2 739 358Z" fill="none" stroke="#000" stroke-width="1.8"/>
<path d="M741 425C741.5 423.7 744.2 422.3 745 423C745.8 423.7 746.5 427.7 746 429C745.5 430.3 742.8 431.7 742 431C741.2 430.3 740.5 426.3 741 425Z" fill="none" stroke="#000" stroke-width="1.8"/>
<path d="M722 467C722.3 465.5 725 463.5 726 464C727 464.5 728.3 468.5 728 470C727.7 471.5 725 473.5 724 473C723 472.5 721.7 468.5 722 467Z" fill="none" stroke="#000" stroke-width="1.8"/>
<path d="M733 478C733.5 476.7 736.2 475.3 737 476C737.8 476.7 738.5 480.7 738 482C737.5 483.3 734.8 484.7 734 484C733.2 483.3 732.5 479.3 733 478Z" fill="none" stroke="#000" stroke-width="1.8"/>
<path d="M747 546C747.3 544.7 750.7 542.7 752 543C753.3 543.3 755.3 546.7 755 548C754.7 549.3 751.3 551.3 750 551C748.7 550.7 746.7 547.3 747 546Z" fill="none" stroke="#000" stroke-width="1.8"/>
<path d="M728 526C729.2 524 732.3 519.7 734 520C735.7 520.3 738.2 525.7 738 528C737.8 530.3 734.8 533.3 733 534C731.2 534.7 727.8 533.3 727 532C726.2 530.7 726.8 528 728 526Z" fill="none" stroke="#000" stroke-width="1.8"/>
</g>
<path d="M513.7 160 603 199" fill="none" stroke="#ee2b1f" stroke-width="3.6" stroke-linejoin="round"/>
<path d="M637 218 708 343 695 354.5 690 480 687 483 708 543" fill="none" stroke="#ee2b1f" stroke-width="3.6" stroke-linejoin="round"/>
<path d="M711 551 683.9 600 662.8 630.3 657.5 640.9 654.9 655.4 657.5 660.6 666.8 664.6" fill="none" stroke="#ee2b1f" stroke-width="3.6" stroke-linejoin="round"/>
<path d="M661.5 673.8 631.2 688.3 627.2 696.2 541 846" fill="none" stroke="#ee2b1f" stroke-width="3.6" stroke-linejoin="round"/>
<path d="M503.5 885 553.5 852.3 557 854" fill="none" stroke="#ee2b1f" stroke-width="3.6" stroke-linejoin="round"/>
<path d="M503.6 885.3 503.6 893.2 499.6 937.7 422.5 992" fill="none" stroke="#ee2b1f" stroke-width="3.6" stroke-linejoin="round"/>
<path d="M414.6 993 400.8 996" fill="none" stroke="#ee2b1f" stroke-width="3.6" stroke-linejoin="round"/>
<path d="M402.8 1004.9 387 1001.9 203.7 1034.5" fill="none" stroke="#ee2b1f" stroke-width="3.6" stroke-linejoin="round"/>
<path d="M152 1052 208 1053" fill="none" stroke="#ee2b1f" stroke-width="3.6" stroke-linejoin="round"/>
<path d="M627.7 186 632.2 199.2 646.1 199.3 634.9 207.6 639 220.9 627.7 212.9 616.4 220.9 620.5 207.6 609.3 199.3 623.2 199.2Z" fill="#e040c8" stroke="#000" stroke-width="2.2" stroke-linejoin="miter"/>
<path d="M718 504 722.4 516.9 736.1 517.1 725.1 525.3 729.2 538.4 718 530.5 706.8 538.4 710.9 525.3 699.9 517.1 713.6 516.9Z" fill="#e040c8" stroke="#000" stroke-width="2.2"/>
<text x="631.3" y="186.4" font-size="33" font-weight="bold" fill="#ea3fd2" class="c" textLength="41.5" lengthAdjust="spacingAndGlyphs">VH</text>
<text x="742" y="524" font-size="32" font-weight="bold" fill="#ea3fd2" class="c" textLength="42.5" lengthAdjust="spacingAndGlyphs">BH</text>
<rect x="476.2" y="138.3" width="34.2" height="35.3" fill="#f4f2ee" fill-opacity="0.93"/>
<text x="493.2" y="166.8" text-anchor="middle" font-size="32.5" font-weight="bold" fill="#f0241a" class="c" textLength="30" lengthAdjust="spacingAndGlyphs">W</text>
<rect x="121" y="1035" width="28" height="34" fill="#f2f0ea" fill-opacity="0.92"/>
<text x="134.8" y="1062.5" text-anchor="middle" font-size="31.5" font-weight="bold" fill="#f0241a" class="c">E</text>
</g>
<rect x="33.5" y="35.5" width="52.5" height="51.5" fill="#fff" stroke="#000" stroke-width="3.4"/>
<text x="38.8" y="70.5" font-size="35" class="n">(a)</text>
<rect x="44.3" y="146.8" width="350.8" height="434.5" fill="#fff" stroke="#000" stroke-width="3.6"/>
<rect x="61.8" y="163.8" width="52" height="35" fill="#b07454" stroke="#000" stroke-width="1.8"/>
<text x="124" y="188.1" font-size="24.3">Vestfold Terrane</text>
<rect x="61.8" y="216.1" width="52" height="35" fill="#d9966e" stroke="#000" stroke-width="1.8"/>
<text x="124" y="240.4" font-size="24.3">Prydz Province</text>
<rect x="61.8" y="268.4" width="52" height="35" fill="#5582e2" stroke="#000" stroke-width="1.8"/>
<text x="124" y="292.7" font-size="24.3">Charcot Terrane</text>
<rect x="61.8" y="320.7" width="52" height="35" fill="#7ffaf0" stroke="#000" stroke-width="1.8"/>
<text x="124" y="345" font-size="24.3">Knox Rift / Bunger Hills</text>
<rect x="61.8" y="373" width="52" height="35" fill="#52de84" stroke="#000" stroke-width="1.8"/>
<text x="124" y="397.3" font-size="24.3">Wilkes Province</text>
<rect x="61.8" y="425.3" width="52" height="35" fill="#b7c438" stroke="#000" stroke-width="1.8"/>
<text x="124" y="449.6" font-size="24.3">West Mawson Craton</text>
<rect x="61.8" y="477.6" width="52" height="35" fill="#5a7424" stroke="#000" stroke-width="1.8"/>
<text x="124" y="501.9" font-size="24.3">East Mawson Craton</text>
<rect x="61.8" y="529.9" width="52" height="35" fill="#dadfa6" stroke="#000" stroke-width="1.8"/>
<text x="124" y="554.2" font-size="24.3">Ross Orogen</text>
<rect x="574.5" y="1053.7" width="215.5" height="66.5" fill="#fff" stroke="#000" stroke-width="3.4"/>
<rect x="592" y="1063.3" width="82.5" height="9" fill="#000"/>
<rect x="674.5" y="1063.3" width="82.5" height="9" fill="#fff" stroke="#000" stroke-width="0.8"/>
<rect x="592" y="1072.3" width="82.5" height="9" fill="#fff" stroke="#000" stroke-width="0.8"/>
<rect x="674.5" y="1072.3" width="82.5" height="9.4" fill="#000"/>
<text x="584" y="1109.5" font-size="27.5">0</text>
<text x="674.7" y="1109.5" text-anchor="middle" font-size="28.5">km</text>
<text x="780" y="1109.5" text-anchor="end" font-size="28.5">500</text>
<rect x="33.75" y="35.4" width="756.25" height="1084.7" fill="none" stroke="#000" stroke-width="3.6"/>
<text x="509.3" y="25.8" text-anchor="middle" font-size="28.3">70°S</text>
<text x="711.5" y="25.8" text-anchor="middle" font-size="28.3">65°S</text>
<text transform="translate(801.5 115.3) rotate(90)" text-anchor="middle" font-size="28.3">75°E</text>
<text transform="translate(801.5 364.4) rotate(90)" text-anchor="middle" font-size="28.3">90°E</text>
<text transform="translate(801.5 612.4) rotate(90)" text-anchor="middle" font-size="28.3">105°E</text>
<text transform="translate(801.5 900.5) rotate(90)" text-anchor="middle" font-size="28.3">120°E</text>
<text transform="translate(22 683.7) rotate(-90)" text-anchor="middle" font-size="28.3">80°S</text>
<text transform="translate(22 877.7) rotate(-90)" text-anchor="middle" font-size="28.3">75°S</text>
<text x="73" y="1151" text-anchor="middle" font-size="28.3">165°E</text>
<text x="310.5" y="1151" text-anchor="middle" font-size="28.3">150°E</text>
<text x="628.3" y="1151" text-anchor="middle" font-size="28.3">135°E</text>
<text x="1216.85" y="20.8" text-anchor="middle" font-weight="bold" font-size="23.9" letter-spacing="0.22">Vestfold Terrane + Prydz Province</text>
<path d="M1204.53 331V327.33H1216.85V331M1216.85 331V323.78H1229.17V331M1229.17 331V316.1H1241.49V331M1241.49 331V303.8H1253.82V331M1253.82 331V283.45H1266.14V331M1266.14 331V252.58H1278.46V331M1278.46 331V196.04H1290.79V331M1290.78 331V155.59H1303.11V331M1303.11 331V86.99H1315.43V331M1315.43 331V70.43H1327.75V331M1327.75 331V214.85H1340.08V331M1340.08 331V292.91H1352.4V331M1352.4 331V316.1H1364.72V331M1364.72 331V321.77H1377.04V331M1377.04 331V326.27H1389.37V331" fill="url(#gb)" stroke="#2a2a2a" stroke-width="1.1"/>
<path d="M1032.01 331v-9.5M1032.01 35.3v9.5M1093.62 331v-17.5M1093.62 35.3v17.5M1155.24 331v-9.5M1155.24 35.3v9.5M1216.85 331v-17.5M1216.85 35.3v17.5M1278.46 331v-9.5M1278.46 35.3v9.5M1340.08 331v-17.5M1340.08 35.3v17.5M1401.69 331v-9.5M1401.69 35.3v9.5M970.4 271.86h18M1463.3 271.86h-18M970.4 212.72h18M1463.3 212.72h-18M970.4 153.58h18M1463.3 153.58h-18M970.4 94.44h18M1463.3 94.44h-18" stroke="#000" stroke-width="2.1" fill="none"/>
<rect x="970.4" y="35.3" width="492.9" height="295.7" fill="none" stroke="#000" stroke-width="3.4"/>
<text x="952" y="340.6" text-anchor="end" font-size="27.3">0</text>
<text x="952" y="281.46" text-anchor="end" font-size="27.3">5</text>
<text x="952" y="222.32" text-anchor="end" font-size="27.3">10</text>
<text x="952" y="163.18" text-anchor="end" font-size="27.3">15</text>
<text x="952" y="104.04" text-anchor="end" font-size="27.3">20</text>
<text x="952" y="44.9" text-anchor="end" font-size="27.3">25</text>
<text transform="translate(893.5 183.15) rotate(-90)" text-anchor="middle" font-size="27.7">Frequency [%]</text>
<text x="977.2" y="70.5" font-size="35" class="n">(b)</text>
<text x="1030" y="112" font-size="24.5">mode = +425 m</text>
<text x="1030" y="137" font-size="24.5">mean = +357 m</text>
<text x="1030" y="162" font-size="24.5">std = 110 m</text>
<text x="1808.45" y="20.8" text-anchor="middle" font-weight="bold" font-size="23.9" letter-spacing="0.22">Charcot Terrane + Knox Rift / Bunger Hills</text>
<path d="M1771.45 331V329.82H1783.78V331M1783.78 331V324.61H1796.12V331M1796.12 331V314.68H1808.45V331M1808.45 331V307.82H1820.78V331M1820.78 331V309.35H1833.11V331M1833.12 331V299.42H1845.45V331M1845.45 331V280.97H1857.78V331M1857.78 331V253.41H1870.11V331M1870.11 331V240.16H1882.44V331M1882.44 331V186.11H1894.78V331M1894.78 331V169.31H1907.11V331M1907.11 331V169.31H1919.44V331M1919.44 331V157.84H1931.77V331M1931.77 331V206.81H1944.11V331M1944.11 331V269.02H1956.44V331M1956.44 331V311.96H1968.77V331M1968.77 331V327.45H1981.11V331M1981.11 331V329.82H1993.44V331M1993.44 331V330.41H2005.77V331" fill="url(#gc)" stroke="#2a2a2a" stroke-width="1.1"/>
<path d="M1623.46 331v-9.5M1623.46 35.3v9.5M1685.12 331v-17.5M1685.12 35.3v17.5M1746.79 331v-9.5M1746.79 35.3v9.5M1808.45 331v-17.5M1808.45 35.3v17.5M1870.11 331v-9.5M1870.11 35.3v9.5M1931.77 331v-17.5M1931.77 35.3v17.5M1993.44 331v-9.5M1993.44 35.3v9.5M1561.8 271.86h18M2055.1 271.86h-18M1561.8 212.72h18M2055.1 212.72h-18M1561.8 153.58h18M2055.1 153.58h-18M1561.8 94.44h18M2055.1 94.44h-18" stroke="#000" stroke-width="2.1" fill="none"/>
<rect x="1561.8" y="35.3" width="493.3" height="295.7" fill="none" stroke="#000" stroke-width="3.4"/>
<text x="2102.3" y="340.6" text-anchor="end" font-size="27.3">0</text>
<text x="2102.3" y="281.46" text-anchor="end" font-size="27.3">5</text>
<text x="2102.3" y="222.32" text-anchor="end" font-size="27.3">10</text>
<text x="2102.3" y="163.18" text-anchor="end" font-size="27.3">15</text>
<text x="2102.3" y="104.04" text-anchor="end" font-size="27.3">20</text>
<text x="2102.3" y="44.9" text-anchor="end" font-size="27.3">25</text>
<text transform="translate(2149.5 183.15) rotate(-90)" text-anchor="middle" font-size="27.7">Frequency [%]</text>
<text x="1568.6" y="70.5" font-size="35" class="n">(c)</text>
<text x="1621.4" y="112" font-size="24.5">mode = +475 m</text>
<text x="1621.4" y="137" font-size="24.5">mean = +386 m</text>
<text x="1621.4" y="162" font-size="24.5">std = 140 m</text>
<text x="1216.85" y="414.7" text-anchor="middle" font-weight="bold" font-size="23.9" letter-spacing="0.22">Wilkes Province</text>
<path d="M1167.56 725.7V723.57H1179.88V725.7M1179.88 725.7V722.5H1192.2V725.7M1192.2 725.7V720.24H1204.53V725.7M1204.53 725.7V713.96H1216.85V725.7M1216.85 725.7V706.84H1229.17V725.7M1229.17 725.7V694.15H1241.49V725.7M1241.49 725.7V676.96H1253.82V725.7M1253.82 725.7V660.59H1266.14V725.7M1266.14 725.7V617.06H1278.46V725.7M1278.46 725.7V571.16H1290.79V725.7M1290.78 725.7V530.72H1303.11V725.7M1303.11 725.7V556.34H1315.43V725.7M1315.43 725.7V562.27H1327.75V725.7M1327.75 725.7V638.65H1340.08V725.7M1340.08 725.7V675.3H1352.4V725.7M1352.4 725.7V698.07H1364.72V725.7M1364.72 725.7V712.3H1377.04V725.7M1377.04 725.7V714.55H1389.37V725.7M1389.37 725.7V720.84H1401.69V725.7M1401.69 725.7V722.85H1414.01V725.7" fill="#55dc88" stroke="#2a2a2a" stroke-width="1.1"/>
<path d="M1032.01 725.7v-9.5M1032.01 429.2v9.5M1093.62 725.7v-17.5M1093.62 429.2v17.5M1155.24 725.7v-9.5M1155.24 429.2v9.5M1216.85 725.7v-17.5M1216.85 429.2v17.5M1278.46 725.7v-9.5M1278.46 429.2v9.5M1340.08 725.7v-17.5M1340.08 429.2v17.5M1401.69 725.7v-9.5M1401.69 429.2v9.5M970.4 666.4h18M1463.3 666.4h-18M970.4 607.1h18M1463.3 607.1h-18M970.4 547.8h18M1463.3 547.8h-18M970.4 488.5h18M1463.3 488.5h-18" stroke="#000" stroke-width="2.1" fill="none"/>
<rect x="970.4" y="429.2" width="492.9" height="296.5" fill="none" stroke="#000" stroke-width="3.4"/>
<text x="952" y="735.3" text-anchor="end" font-size="27.3">0</text>
<text x="952" y="676" text-anchor="end" font-size="27.3">5</text>
<text x="952" y="616.7" text-anchor="end" font-size="27.3">10</text>
<text x="952" y="557.4" text-anchor="end" font-size="27.3">15</text>
<text x="952" y="498.1" text-anchor="end" font-size="27.3">20</text>
<text x="952" y="438.8" text-anchor="end" font-size="27.3">25</text>
<text transform="translate(893.5 577.45) rotate(-90)" text-anchor="middle" font-size="27.7">Frequency [%]</text>
<text x="977.2" y="464.4" font-size="35" class="n">(d)</text>
<text x="1030" y="505.9" font-size="24.5">mode = +325 m</text>
<text x="1030" y="530.9" font-size="24.5">mean = +327 m</text>
<text x="1030" y="555.9" font-size="24.5">std = 151 m</text>
<text x="1808.45" y="414.7" text-anchor="middle" font-weight="bold" font-size="23.9" letter-spacing="0.22">West Mawson Craton</text>
<path d="M1746.79 725.7V722.26H1759.12V725.7M1759.12 725.7V721.07H1771.45V725.7M1771.45 725.7V718.58H1783.78V725.7M1783.78 725.7V712.3H1796.12V725.7M1796.12 725.7V698.78H1808.45V725.7M1808.45 725.7V679.45H1820.78V725.7M1820.78 725.7V660.47H1833.11V725.7M1833.12 725.7V637.22H1845.45V725.7M1845.45 725.7V608.05H1857.78V725.7M1857.78 725.7V586.7H1870.11V725.7M1870.11 725.7V567.13H1882.44V725.7M1882.44 725.7V552.66H1894.78V725.7M1894.78 725.7V586.7H1907.11V725.7M1907.11 725.7V628.57H1919.44V725.7M1919.44 725.7V676.6H1931.77V725.7M1931.77 725.7V703.52H1944.11V725.7M1944.11 725.7V714.2H1956.44V725.7M1956.44 725.7V717.75H1968.77V725.7M1968.77 725.7V721.55H1981.11V725.7M1981.11 725.7V724.51H1993.44V725.7" fill="#b7c43a" stroke="#2a2a2a" stroke-width="1.1"/>
<path d="M1623.46 725.7v-9.5M1623.46 429.2v9.5M1685.12 725.7v-17.5M1685.12 429.2v17.5M1746.79 725.7v-9.5M1746.79 429.2v9.5M1808.45 725.7v-17.5M1808.45 429.2v17.5M1870.11 725.7v-9.5M1870.11 429.2v9.5M1931.77 725.7v-17.5M1931.77 429.2v17.5M1993.44 725.7v-9.5M1993.44 429.2v9.5M1561.8 666.4h18M2055.1 666.4h-18M1561.8 607.1h18M2055.1 607.1h-18M1561.8 547.8h18M2055.1 547.8h-18M1561.8 488.5h18M2055.1 488.5h-18" stroke="#000" stroke-width="2.1" fill="none"/>
<rect x="1561.8" y="429.2" width="493.3" height="296.5" fill="none" stroke="#000" stroke-width="3.4"/>
<text x="2102.3" y="735.3" text-anchor="end" font-size="27.3">0</text>
<text x="2102.3" y="676" text-anchor="end" font-size="27.3">5</text>
<text x="2102.3" y="616.7" text-anchor="end" font-size="27.3">10</text>
<text x="2102.3" y="557.4" text-anchor="end" font-size="27.3">15</text>
<text x="2102.3" y="498.1" text-anchor="end" font-size="27.3">20</text>
<text x="2102.3" y="438.8" text-anchor="end" font-size="27.3">25</text>
<text transform="translate(2149.5 577.45) rotate(-90)" text-anchor="middle" font-size="27.7">Frequency [%]</text>
<text x="1568.6" y="464.4" font-size="35" class="n">(e)</text>
<text x="1621.4" y="505.9" font-size="24.5">mode = +325 m</text>
<text x="1621.4" y="530.9" font-size="24.5">mean = +264 m</text>
<text x="1621.4" y="555.9" font-size="24.5">std = 152 m</text>
<text x="1216.85" y="809.3" text-anchor="middle" font-weight="bold" font-size="23.9" letter-spacing="0.22">East Mawson Craton</text>
<path d="M1167.56 1120.2V1119.01H1179.88V1120.2M1179.88 1120.2V1116.76H1192.2V1120.2M1192.2 1120.2V1110.72H1204.53V1120.2M1204.53 1120.2V1104.55H1216.85V1120.2M1216.85 1120.2V1094.95H1229.17V1120.2M1229.17 1120.2V1081.31H1241.49V1120.2M1241.49 1120.2V1053.69H1253.82V1120.2M1253.82 1120.2V1009.58H1266.14V1120.2M1266.14 1120.2V956.23H1278.46V1120.2M1278.46 1120.2V940.82H1290.79V1120.2M1290.78 1120.2V977.45H1303.11V1120.2M1303.11 1120.2V990.73H1315.43V1120.2M1315.43 1120.2V1018.83H1327.75V1120.2M1327.75 1120.2V1042.9H1340.08V1120.2M1340.08 1120.2V1071H1352.4V1120.2M1352.4 1120.2V1089.49H1364.72V1120.2M1364.72 1120.2V1102.65H1377.04V1120.2M1377.04 1120.2V1111.07H1389.37V1120.2M1389.37 1120.2V1116.29H1401.69V1120.2M1401.69 1120.2V1119.01H1414.01V1120.2" fill="#5f7a24" stroke="#2a2a2a" stroke-width="1.1"/>
<path d="M1032.01 1120.2v-9.5M1032.01 823.8v9.5M1093.62 1120.2v-17.5M1093.62 823.8v17.5M1155.24 1120.2v-9.5M1155.24 823.8v9.5M1216.85 1120.2v-17.5M1216.85 823.8v17.5M1278.46 1120.2v-9.5M1278.46 823.8v9.5M1340.08 1120.2v-17.5M1340.08 823.8v17.5M1401.69 1120.2v-9.5M1401.69 823.8v9.5M970.4 1060.92h18M1463.3 1060.92h-18M970.4 1001.64h18M1463.3 1001.64h-18M970.4 942.36h18M1463.3 942.36h-18M970.4 883.08h18M1463.3 883.08h-18" stroke="#000" stroke-width="2.1" fill="none"/>
<rect x="970.4" y="823.8" width="492.9" height="296.4" fill="none" stroke="#000" stroke-width="3.4"/>
<text x="952" y="1129.8" text-anchor="end" font-size="27.3">0</text>
<text x="952" y="1070.52" text-anchor="end" font-size="27.3">5</text>
<text x="952" y="1011.24" text-anchor="end" font-size="27.3">10</text>
<text x="952" y="951.96" text-anchor="end" font-size="27.3">15</text>
<text x="952" y="892.68" text-anchor="end" font-size="27.3">20</text>
<text x="952" y="833.4" text-anchor="end" font-size="27.3">25</text>
<text transform="translate(893.5 972) rotate(-90)" text-anchor="middle" font-size="27.7">Frequency [%]</text>
<text x="977.2" y="859" font-size="35" class="n">(f)</text>
<text x="1030" y="900.5" font-size="24.5">mode = +275 m</text>
<text x="1030" y="925.5" font-size="24.5">mean = +302 m</text>
<text x="1030" y="950.5" font-size="24.5">std = 151 m</text>
<text x="970.4" y="1157.5" text-anchor="middle" font-size="28">−1000</text>
<text x="1093.62" y="1157.5" text-anchor="middle" font-size="28">−500</text>
<text x="1216.85" y="1157.5" text-anchor="middle" font-size="28">0</text>
<text x="1340.08" y="1157.5" text-anchor="middle" font-size="28">500</text>
<text x="1463.3" y="1157.5" text-anchor="middle" font-size="28">1000</text>
<text x="1216.85" y="1205.5" text-anchor="middle" font-size="27.8">Rebounded bed elevation [m]</text>
<text x="1808.45" y="809.3" text-anchor="middle" font-weight="bold" font-size="23.9" letter-spacing="0.22">Ross Orogen</text>
<path d="M1722.12 1120.2V1118.66H1734.45V1120.2M1734.45 1120.2V1116.29H1746.79V1120.2M1746.79 1120.2V1112.73H1759.12V1120.2M1759.12 1120.2V1109.53H1771.45V1120.2M1771.45 1120.2V1107.16H1783.78V1120.2M1783.78 1120.2V1097.32H1796.12V1120.2M1796.12 1120.2V1078.11H1808.45V1120.2M1808.45 1120.2V1054.4H1820.78V1120.2M1820.78 1120.2V1031.16H1833.11V1120.2M1833.12 1120.2V1013.26H1845.45V1120.2M1845.45 1120.2V1000.69H1857.78V1120.2M1857.78 1120.2V977.81H1870.11V1120.2M1870.11 1120.2V1006.15H1882.44V1120.2M1882.44 1120.2V1033.18H1894.78V1120.2M1894.78 1120.2V1044.56H1907.11V1120.2M1907.11 1120.2V1038.75H1919.44V1120.2M1919.44 1120.2V1052.38H1931.77V1120.2M1931.77 1120.2V1071.83H1944.11V1120.2M1944.11 1120.2V1090.32H1956.44V1120.2M1956.44 1120.2V1097.32H1968.77V1120.2M1968.77 1120.2V1107.16H1981.11V1120.2M1981.11 1120.2V1112.73H1993.44V1120.2M1993.44 1120.2V1117.35H2005.77V1120.2" fill="#dde0a6" stroke="#2a2a2a" stroke-width="1.1"/>
<path d="M1623.46 1120.2v-9.5M1623.46 823.8v9.5M1685.12 1120.2v-17.5M1685.12 823.8v17.5M1746.79 1120.2v-9.5M1746.79 823.8v9.5M1808.45 1120.2v-17.5M1808.45 823.8v17.5M1870.11 1120.2v-9.5M1870.11 823.8v9.5M1931.77 1120.2v-17.5M1931.77 823.8v17.5M1993.44 1120.2v-9.5M1993.44 823.8v9.5M1561.8 1060.92h18M2055.1 1060.92h-18M1561.8 1001.64h18M2055.1 1001.64h-18M1561.8 942.36h18M2055.1 942.36h-18M1561.8 883.08h18M2055.1 883.08h-18" stroke="#000" stroke-width="2.1" fill="none"/>
<rect x="1561.8" y="823.8" width="493.3" height="296.4" fill="none" stroke="#000" stroke-width="3.4"/>
<text x="2102.3" y="1129.8" text-anchor="end" font-size="27.3">0</text>
<text x="2102.3" y="1070.52" text-anchor="end" font-size="27.3">5</text>
<text x="2102.3" y="1011.24" text-anchor="end" font-size="27.3">10</text>
<text x="2102.3" y="951.96" text-anchor="end" font-size="27.3">15</text>
<text x="2102.3" y="892.68" text-anchor="end" font-size="27.3">20</text>
<text x="2102.3" y="833.4" text-anchor="end" font-size="27.3">25</text>
<text transform="translate(2149.5 972) rotate(-90)" text-anchor="middle" font-size="27.7">Frequency [%]</text>
<text x="1568.6" y="859" font-size="35" class="n">(g)</text>
<text x="1621.4" y="900.5" font-size="24.5">mode = +225 m</text>
<text x="1621.4" y="925.5" font-size="24.5">mean = +250 m</text>
<text x="1621.4" y="950.5" font-size="24.5">std = 197 m</text>
<text x="1561.8" y="1157.5" text-anchor="middle" font-size="28">−1000</text>
<text x="1685.12" y="1157.5" text-anchor="middle" font-size="28">−500</text>
<text x="1808.45" y="1157.5" text-anchor="middle" font-size="28">0</text>
<text x="1931.77" y="1157.5" text-anchor="middle" font-size="28">500</text>
<text x="2055.1" y="1157.5" text-anchor="middle" font-size="28">1000</text>
<text x="1808.45" y="1205.5" text-anchor="middle" font-size="27.8">Rebounded bed elevation [m]</text>
</svg></body></html>
